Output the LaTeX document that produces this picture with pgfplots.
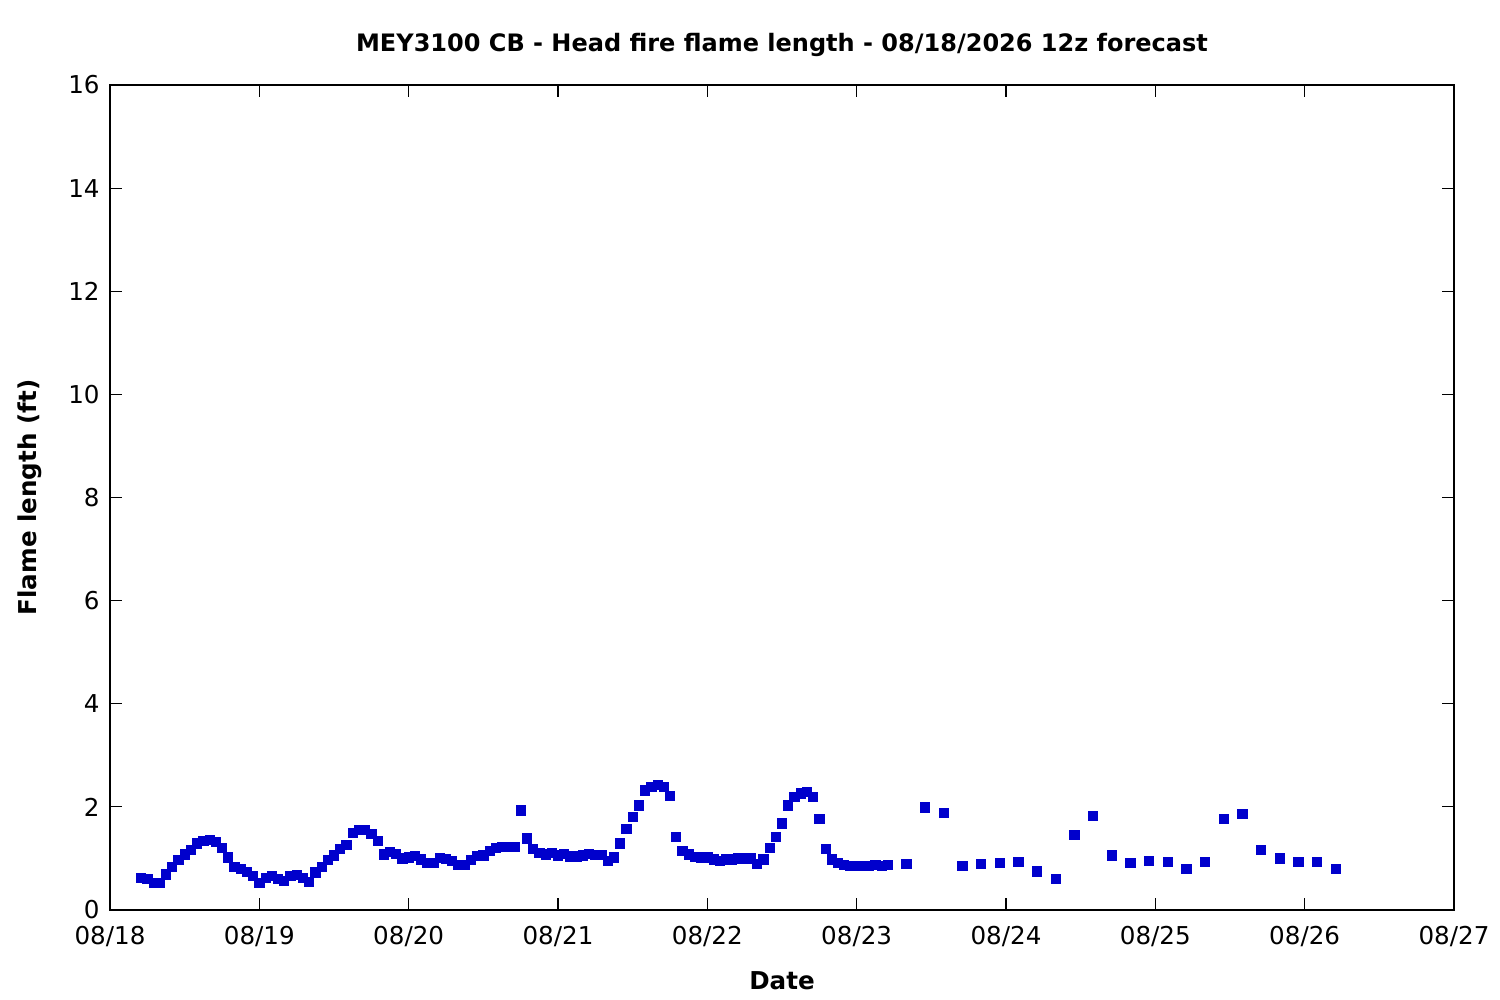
\documentclass[border=0pt]{standalone}
\usepackage{fontspec}
\setmainfont{DejaVu Sans}
\usepackage{pgfplots}
\pgfplotsset{compat=1.18}
\definecolor{ptblue}{RGB}{0,0,204}
\begin{document}
\fontsize{12bp}{14bp}\selectfont
\begin{tikzpicture}
\path[use as bounding box] (0,0) rectangle (750bp,500bp);
\begin{axis}[
  at={(55bp,45bp)}, anchor=south west,
  scale only axis, width=672bp, height=412.5bp,
  xmin=0, xmax=216, ymin=0, ymax=16,
  xtick={0,24,...,216},
  xticklabels={08/18,08/19,08/20,08/21,08/22,08/23,08/24,08/25,08/26,08/27},
  ytick={0,2,...,16},
  minor tick num=0,
  tick align=inside,
  major tick length=6bp,
  axis line style={line width=0.7bp},
  every tick/.style={line width=0.6bp, black},
  /pgf/number format/assume math mode=true,
  ticklabel style={font=\fontsize{12.3bp}{14bp}\selectfont},
  xticklabel style={yshift=-4bp},
  yticklabel style={xshift=-1bp},
  xlabel={\bfseries Date},
  ylabel={\bfseries Flame length (ft)},
  xlabel style={font=\fontsize{12.3bp}{14bp}\selectfont, yshift=-4bp},
  ylabel style={font=\fontsize{12.3bp}{14bp}\selectfont, yshift=5bp},
  title={\bfseries MEY3100 CB - Head fire flame length - 08/18/2026 12z forecast},
  title style={font=\fontsize{12bp}{14bp}\selectfont, yshift=4bp},
  clip=false,
]
\addplot[only marks, mark=square*, mark size=2.3bp, color=ptblue] coordinates {
(5,0.63)(6,0.60)(7,0.53)(8,0.53)(9,0.69)(10,0.83)(11,0.97)(12,1.08)(13,1.16)(14,1.29)
(15,1.34)(16,1.36)(17,1.32)(18,1.20)(19,1.02)(20,0.84)(21,0.80)(22,0.74)(23,0.66)(24,0.53)
(25,0.63)(26,0.66)(27,0.60)(28,0.57)(29,0.66)(30,0.68)(31,0.63)(32,0.55)(33,0.73)(34,0.83)
(35,0.97)(36,1.06)(37,1.18)(38,1.27)(39,1.49)(40,1.55)(41,1.55)(42,1.47)(43,1.34)(44,1.08)
(45,1.12)(46,1.09)(47,1.00)(48,1.02)(49,1.05)(50,0.98)(51,0.92)(52,0.92)(53,1.01)(54,0.99)
(55,0.96)(56,0.87)(57,0.87)(58,0.97)(59,1.05)(60,1.06)(61,1.14)(62,1.20)(63,1.23)(64,1.23)
(65,1.23)(66,1.93)(67,1.39)(68,1.18)(69,1.10)(70,1.08)(71,1.11)(72,1.06)(73,1.09)(74,1.04)
(75,1.04)(76,1.06)(77,1.09)(78,1.07)(79,1.07)(80,0.96)(81,1.02)(82,1.29)(83,1.58)(84,1.80)
(85,2.03)(86,2.32)(87,2.39)(88,2.42)(89,2.39)(90,2.22)(91,1.41)(92,1.14)(93,1.08)(94,1.03)
(95,1.02)(96,1.02)(97,0.98)(98,0.96)(99,0.98)(100,0.98)(101,1.00)(102,1.00)(103,1.00)(104,0.89)
(105,0.98)(106,1.20)(107,1.41)(108,1.68)(109,2.03)(110,2.20)(111,2.26)(112,2.29)(113,2.19)(114,1.76)
(115,1.18)(116,0.98)(117,0.91)(118,0.88)(119,0.86)(120,0.86)(121,0.86)(122,0.85)(123,0.87)(124,0.85)
(125,0.87)
(128,0.89)(131,1.99)(134,1.88)(137,0.85)(140,0.89)(143,0.91)(146,0.93)(149,0.75)(152,0.61)
(155,1.45)(158,1.82)(161,1.06)(164,0.91)(167,0.96)(170,0.93)(173,0.79)(176,0.93)(179,1.76)
(182,1.86)(185,1.16)(188,1.00)(191,0.94)(194,0.93)(197,0.79)
};
\end{axis}
\end{tikzpicture}
\end{document}
